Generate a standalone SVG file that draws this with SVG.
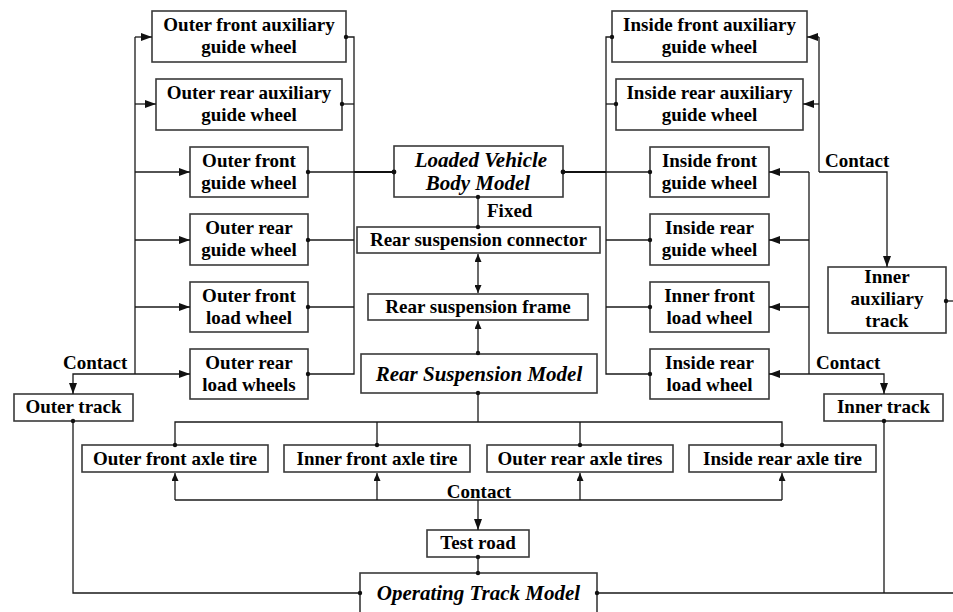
<svg xmlns="http://www.w3.org/2000/svg" width="953" height="612" viewBox="0 0 953 612">
<style>
.box{fill:#fff;stroke:#3a3a3a;stroke-width:1.6}
.t{font-family:"Liberation Serif","Times New Roman",serif;font-weight:bold;font-size:19px;fill:#000;text-anchor:middle}
.ti{font-family:"Liberation Serif","Times New Roman",serif;font-weight:bold;font-style:italic;font-size:21px;fill:#000;text-anchor:middle}
.lbl{font-family:"Liberation Serif","Times New Roman",serif;font-weight:bold;font-size:19px;fill:#000}
.ln{fill:none;stroke:#1a1a1a;stroke-width:1.3}
.thick{fill:none;stroke:#111;stroke-width:2.2}
.arr{marker-end:url(#ah)}
.dot{fill:#111}
</style>
<defs>
<marker id="ah" markerUnits="userSpaceOnUse" markerWidth="11" markerHeight="8" refX="11" refY="4" orient="auto"><path d="M0,0 L11,4 L0,8 z" fill="#111"/></marker>
<marker id="ahs" markerUnits="userSpaceOnUse" markerWidth="8" markerHeight="7" refX="8" refY="3.5" orient="auto-start-reverse"><path d="M0,0 L8,3.5 L0,7 z" fill="#111"/></marker>
</defs>

<!-- Left column -->
<g id="outer-front-aux"><rect class="box" x="152" y="11" width="194" height="51"/><text class="t" x="249" y="31">Outer front auxiliary</text><text class="t" x="249" y="53">guide wheel</text></g>
<g id="outer-rear-aux"><rect class="box" x="156" y="79" width="186" height="51"/><text class="t" x="249" y="99">Outer rear auxiliary</text><text class="t" x="249" y="121">guide wheel</text></g>
<g id="outer-front-guide"><rect class="box" x="190" y="147" width="118" height="50"/><text class="t" x="249" y="166.5">Outer front</text><text class="t" x="249" y="188.5">guide wheel</text></g>
<g id="outer-rear-guide"><rect class="box" x="190" y="214" width="118" height="51"/><text class="t" x="249" y="234">Outer rear</text><text class="t" x="249" y="256">guide wheel</text></g>
<g id="outer-front-load"><rect class="box" x="190" y="282" width="118" height="50"/><text class="t" x="249" y="301.5">Outer front</text><text class="t" x="249" y="323.5">load wheel</text></g>
<g id="outer-rear-load"><rect class="box" x="190" y="349" width="118" height="50"/><text class="t" x="249" y="368.5">Outer rear</text><text class="t" x="249" y="390.5">load wheels</text></g>
<g id="outer-track"><rect class="box" x="14" y="394" width="119" height="27"/><text class="t" x="73.5" y="413">Outer track</text></g>

<!-- Right column -->
<g id="inside-front-aux"><rect class="box" x="612" y="11" width="195" height="51"/><text class="t" x="709.5" y="31">Inside front auxiliary</text><text class="t" x="709.5" y="53">guide wheel</text></g>
<g id="inside-rear-aux"><rect class="box" x="616" y="79" width="187" height="51"/><text class="t" x="709.5" y="99">Inside rear auxiliary</text><text class="t" x="709.5" y="121">guide wheel</text></g>
<g id="inside-front-guide"><rect class="box" x="650" y="147" width="119" height="50"/><text class="t" x="709.5" y="166.5">Inside front</text><text class="t" x="709.5" y="188.5">guide wheel</text></g>
<g id="inside-rear-guide"><rect class="box" x="650" y="214" width="119" height="51"/><text class="t" x="709.5" y="234">Inside rear</text><text class="t" x="709.5" y="256">guide wheel</text></g>
<g id="inner-front-load"><rect class="box" x="650" y="282" width="119" height="50"/><text class="t" x="709.5" y="301.5">Inner front</text><text class="t" x="709.5" y="323.5">load wheel</text></g>
<g id="inside-rear-load"><rect class="box" x="650" y="349" width="119" height="50"/><text class="t" x="709.5" y="368.5">Inside rear</text><text class="t" x="709.5" y="390.5">load wheel</text></g>
<g id="inner-aux-track"><rect class="box" x="828" y="267" width="118" height="66"/><text class="t" x="887" y="283">Inner</text><text class="t" x="887" y="305">auxiliary</text><text class="t" x="887" y="327">track</text></g>
<g id="inner-track"><rect class="box" x="824" y="394" width="119" height="27"/><text class="t" x="883.5" y="413">Inner track</text></g>

<!-- Center -->
<g id="vehicle-body"><rect class="box" x="394" y="146" width="169" height="51"/><text class="ti" x="481" y="167">Loaded Vehicle</text><text class="ti" x="478" y="190">Body Model</text></g>
<g id="rs-connector"><rect class="box" x="357" y="227" width="243" height="26"/><text class="t" x="478.5" y="246">Rear suspension connector</text></g>
<g id="rs-frame"><rect class="box" x="368" y="294" width="220" height="26"/><text class="t" x="478" y="313">Rear suspension frame</text></g>
<g id="rs-model"><rect class="box" x="361" y="354" width="236" height="39"/><text class="ti" x="479" y="381">Rear Suspension Model</text></g>
<g id="outer-front-tire"><rect class="box" x="82" y="445" width="186" height="27"/><text class="t" x="175" y="465">Outer front axle tire</text></g>
<g id="inner-front-tire"><rect class="box" x="284" y="445" width="186" height="27"/><text class="t" x="377" y="465">Inner front axle tire</text></g>
<g id="outer-rear-tire"><rect class="box" x="487" y="445" width="186" height="27"/><text class="t" x="580" y="465">Outer rear axle tires</text></g>
<g id="inside-rear-tire"><rect class="box" x="689" y="445" width="187" height="27"/><text class="t" x="782.5" y="465">Inside rear axle tire</text></g>
<g id="test-road"><rect class="box" x="427" y="530" width="102" height="27"/><text class="t" x="478" y="549">Test road</text></g>
<g id="operating-track"><rect class="box" x="360" y="573" width="237" height="60"/><text class="ti" x="478.5" y="600">Operating Track Model</text></g>

<g id="connectors">
<!-- left input bus -->
<path class="ln" d="M135,37 V374"/>
<path class="ln arr" d="M135,37 H152"/>
<path class="ln arr" d="M135,104 H156"/>
<path class="ln arr" d="M135,172 H190"/>
<path class="ln arr" d="M135,240 H190"/>
<path class="ln arr" d="M135,307 H190"/>
<path class="ln arr" d="M135,374 H190"/>
<path class="ln arr" d="M135,374 H73 V394"/>
<!-- left output bus -->
<path class="ln" d="M346,37 H354 V374 H308"/>
<path class="ln" d="M342,104 H354"/>
<path class="ln" d="M308,172 H354"/>
<path class="ln" d="M308,240 H354"/>
<path class="ln" d="M308,307 H354"/>
<path class="thick" d="M354,172 H394"/>
<circle class="dot" cx="346" cy="37" r="2.2"/><circle class="dot" cx="342" cy="104" r="2.2"/>
<circle class="dot" cx="308" cy="172" r="2.2"/><circle class="dot" cx="308" cy="240" r="2.2"/>
<circle class="dot" cx="308" cy="307" r="2.2"/><circle class="dot" cx="308" cy="374" r="2.2"/>
<circle class="dot" cx="394" cy="172" r="2.4"/>
<!-- right output bus -->
<path class="ln" d="M612,37 H606 V374 H650"/>
<path class="ln" d="M616,104 H606"/>
<path class="ln" d="M606,172 H650"/>
<path class="ln" d="M606,240 H650"/>
<path class="ln" d="M606,307 H650"/>
<path class="thick" d="M563,172 H606"/>
<circle class="dot" cx="612" cy="37" r="2.2"/><circle class="dot" cx="616" cy="104" r="2.2"/>
<circle class="dot" cx="650" cy="172" r="2.2"/><circle class="dot" cx="650" cy="240" r="2.2"/>
<circle class="dot" cx="650" cy="307" r="2.2"/><circle class="dot" cx="650" cy="374" r="2.2"/>
<circle class="dot" cx="563" cy="172" r="2.4"/>
<!-- right aux input bus -->
<path class="ln" d="M819,37 V172"/>
<path class="ln arr" d="M819,37 H807"/>
<path class="ln arr" d="M819,104 H803"/>
<path class="ln arr" d="M819,172 H887 V267"/>
<!-- right input bus -->
<path class="ln" d="M809,172 V374"/>
<path class="ln arr" d="M809,172 H769"/>
<path class="ln arr" d="M809,240 H769"/>
<path class="ln arr" d="M809,307 H769"/>
<path class="ln arr" d="M809,374 H769"/>
<path class="ln arr" d="M809,374 H884 V394"/>
<path class="ln" d="M946,301 H953"/>
<circle class="dot" cx="946" cy="301" r="2.2"/>
<!-- center chain -->
<path class="ln" d="M478,197 V227"/>
<circle class="dot" cx="478" cy="197" r="2.2"/><circle class="dot" cx="478" cy="227" r="2.2"/>
<path class="ln" d="M478,254 V293" marker-start="url(#ahs)" marker-end="url(#ahs)"/>
<path class="ln" d="M478,354 V321" marker-end="url(#ahs)"/>
<circle class="dot" cx="478" cy="353" r="2.2"/>
<!-- tires -->
<path class="ln" d="M478,393 V422 M175,445 V422 H782 V445 M377,422 V445 M580,422 V445"/>
<circle class="dot" cx="478" cy="393" r="2.2"/>
<circle class="dot" cx="175" cy="445" r="2.2"/><circle class="dot" cx="377" cy="445" r="2.2"/>
<circle class="dot" cx="580" cy="445" r="2.2"/><circle class="dot" cx="782" cy="445" r="2.2"/>
<path class="ln" d="M175,500 H782"/>
<path class="ln" d="M175,500 V473" marker-end="url(#ahs)"/>
<path class="ln" d="M377,500 V473" marker-end="url(#ahs)"/>
<path class="ln" d="M580,500 V473" marker-end="url(#ahs)"/>
<path class="ln" d="M782,500 V473" marker-end="url(#ahs)"/>
<path class="ln arr" d="M478,500 V530"/>
<path class="ln" d="M478,557 V573"/>
<circle class="dot" cx="478" cy="557" r="2.2"/><circle class="dot" cx="478" cy="573" r="2.2"/>
<!-- tracks to operating model -->
<path class="ln" d="M73,421 V593 H360"/>
<circle class="dot" cx="73" cy="421" r="2.2"/><circle class="dot" cx="360" cy="593" r="2.2"/>
<path class="ln" d="M597,593 H953 M884,421 V593"/>
<circle class="dot" cx="597" cy="593" r="2.2"/><circle class="dot" cx="884" cy="421" r="2.2"/>
<!-- labels -->
<text class="lbl" x="63" y="369">Contact</text>
<text class="lbl" x="816" y="369">Contact</text>
<text class="lbl" x="825" y="167">Contact</text>
<text class="lbl" x="479" y="498" text-anchor="middle">Contact</text>
<text class="lbl" x="487" y="217">Fixed</text>
</g>
</svg>
